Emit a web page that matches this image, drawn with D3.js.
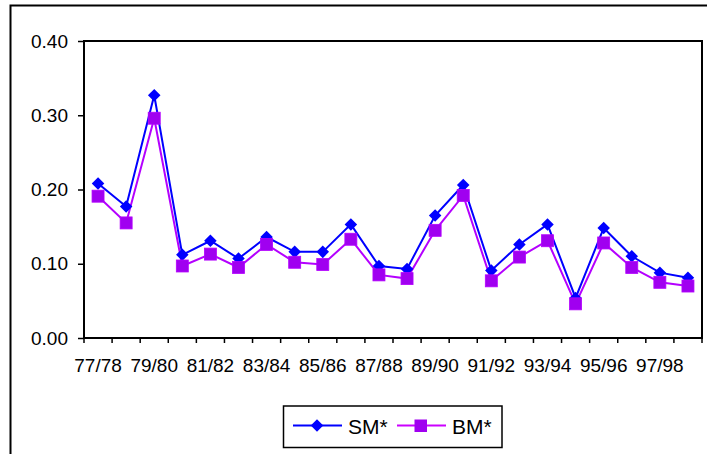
<!DOCTYPE html>
<html><head><meta charset="utf-8">
<script src="https://cdn.jsdelivr.net/npm/d3@7"></script>
<style>body{margin:0;background:#fff}svg{display:block}text{font-family:"Liberation Sans",Arial,sans-serif}</style>
</head><body>
<script>
const categories = ["77/78","78/79","79/80","80/81","81/82","82/83","83/84","84/85","85/86","86/87","87/88","88/89","89/90","90/91","91/92","92/93","93/94","94/95","95/96","96/97","97/98","98/99"];
const smValues = [0.208,0.177,0.327,0.112,0.131,0.107,0.136,0.116,0.116,0.153,0.097,0.093,0.165,0.206,0.091,0.126,0.153,0.054,0.148,0.110,0.088,0.081];
const bmValues = [0.191,0.155,0.296,0.097,0.113,0.095,0.126,0.102,0.099,0.133,0.085,0.080,0.145,0.192,0.077,0.109,0.131,0.046,0.128,0.095,0.075,0.070];
const yTicks = [0,0.1,0.2,0.3,0.4];
const seriesNames = ["SM*","BM*"];

(function(){
const W=707,H=454;
const svg=d3.select("body").append("svg").attr("width",W).attr("height",H);
svg.append("rect").attr("x",10.5).attr("y",5.5).attr("width",800).attr("height",600)
  .attr("fill","none").attr("stroke","#000").attr("stroke-width",2);

const pL=84,pR=702,pT=41,pB=338;
const x=d3.scaleBand().domain(categories).range([pL,pR]);
const y=d3.scaleLinear().domain([0,0.4]).range([pB,pT]);
const fs="19px";

svg.append("rect").attr("x",pL).attr("y",pT).attr("width",pR-pL).attr("height",pB-pT)
  .attr("fill","none").attr("stroke","#000").attr("stroke-width",2);

const ya=svg.append("g").attr("transform",`translate(${pL},0)`)
  .call(d3.axisLeft(y).tickValues(yTicks).tickFormat(d3.format(".2f")).tickSize(6).tickPadding(10));
ya.select(".domain").remove();
ya.selectAll("line").attr("stroke","#000").attr("stroke-width",1.5);
ya.selectAll("text").attr("font-size",fs).attr("fill","#000").attr("font-family","Liberation Sans, Arial, sans-serif");

const xa=svg.append("g").attr("transform",`translate(0,${pB})`)
  .call(d3.axisBottom(x).tickSize(0).tickPadding(21).tickFormat((d,i)=>i%2===0?d:""));
xa.select(".domain").remove();
xa.selectAll("text").attr("font-size",fs).attr("fill","#000").attr("font-family","Liberation Sans, Arial, sans-serif");
const bounds=categories.map(c=>x(c)).concat([pR]);
svg.append("g").selectAll("line").data(bounds).join("line")
  .attr("x1",d=>d).attr("x2",d=>d).attr("y1",pB).attr("y2",pB+5)
  .attr("stroke","#000").attr("stroke-width",1.5);

const cx=d=>x(d)+x.bandwidth()/2;
const smColor="#0000ff", bmLine="#b400ff", bmFill="#a000f0";
const line=(vals)=>d3.line().x((d,i)=>cx(categories[i])).y(d=>y(d))(vals);

svg.append("path").attr("d",line(bmValues)).attr("fill","none").attr("stroke",bmLine).attr("stroke-width",2);
svg.append("path").attr("d",line(smValues)).attr("fill","none").attr("stroke",smColor).attr("stroke-width",2);

const diamond=d3.symbol().type(d3.symbolDiamond2).size(100);
svg.append("g").selectAll("path").data(smValues).join("path")
  .attr("d",diamond).attr("transform",(d,i)=>`translate(${cx(categories[i])},${y(d)})`)
  .attr("fill",smColor);
svg.append("g").selectAll("rect").data(bmValues).join("rect")
  .attr("x",(d,i)=>cx(categories[i])-6).attr("y",d=>y(d)-6).attr("width",12).attr("height",12)
  .attr("fill",bmFill).attr("stroke",bmLine).attr("stroke-width",0.8);

const lg=svg.append("g");
const lfs="21px";
lg.append("rect").attr("x",283.5).attr("y",406).attr("width",218.5).attr("height",41.5)
  .attr("fill","#fff").attr("stroke","#000").attr("stroke-width",1.5);
const ly=425.5;
lg.append("line").attr("x1",293).attr("x2",342).attr("y1",ly).attr("y2",ly).attr("stroke",smColor).attr("stroke-width",2);
lg.append("path").attr("d",diamond).attr("transform",`translate(317,${ly})`).attr("fill",smColor);
lg.append("text").attr("x",348).attr("y",434).attr("font-size",lfs).text(seriesNames[0]);
lg.append("line").attr("x1",397).attr("x2",446).attr("y1",ly).attr("y2",ly).attr("stroke","#cc00ff").attr("stroke-width",2);
lg.append("rect").attr("x",414.5).attr("y",ly-6).attr("width",12.5).attr("height",12.5).attr("fill",bmFill);
lg.append("text").attr("x",452).attr("y",434).attr("font-size",lfs).text(seriesNames[1]);
})();
</script>
</body></html>
